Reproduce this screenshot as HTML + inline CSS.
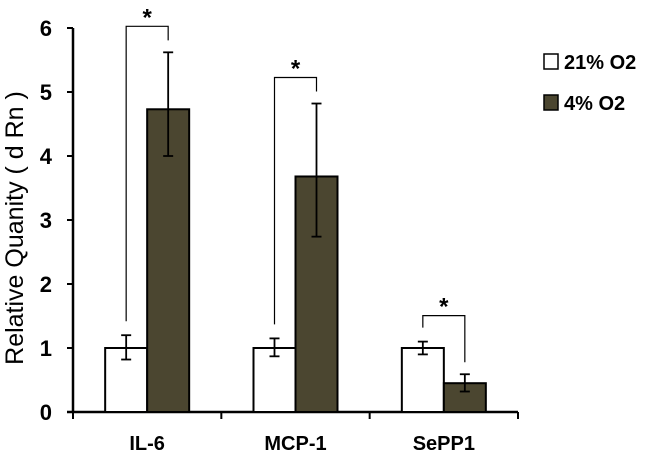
<!DOCTYPE html>
<html><head><meta charset="utf-8"><style>
body{margin:0;background:#fff}
svg{display:block;font-family:"Liberation Sans",Arial,sans-serif}
</style></head><body>
<svg id="c" width="650" height="456" viewBox="0 0 650 456"></svg>
<script>
const categories=["IL-6","MCP-1","SePP1"];
const normoxia=[1,1,1];
const normoxiaErrUp=[0.2,0.15,0.1];
const normoxiaErrDown=[0.18,0.13,0.1];
const hypoxia=[4.73,3.68,0.45];
const hypoxiaErrUp=[0.89,1.14,0.14];
const hypoxiaErrDown=[0.73,0.94,0.13];
const yTicks=[0,1,2,3,4,5,6];
const seriesNames=["21% O2","4% O2"];
const NS="http://www.w3.org/2000/svg";
const svg=document.getElementById('c');
const x0=73,x1=518,yBase=412,yTop=28,yMax=6;
const band=(x1-x0)/categories.length;
const y=v=>yBase-(yBase-yTop)*v/yMax;
const cx=i=>x0+band*(i+0.5);
const bw=42;
function mk(t,a,txt){const e=document.createElementNS(NS,t);for(const k in a)e.setAttribute(k,a[k]);if(txt!==undefined)e.textContent=txt;svg.appendChild(e);return e;}
let e=mk('line',{x1:x0,y1:yTop,x2:x0,y2:yBase,stroke:'#000','stroke-width':2.5});


e=mk('line',{x1:x0-6,y1:yBase,x2:x1,y2:yBase,stroke:'#000','stroke-width':2.5});


yTicks.forEach(t=>{
 let l=mk('line',{x1:x0-6,y1:y(t),x2:x0,y2:y(t),stroke:'#000','stroke-width':2});
 
 
 let tx=mk('text',{x:x0-21,y:y(t)+8,'text-anchor':'end','font-size':22,'font-weight':'bold'},t);
 
 
});
for(let i=0;i<=categories.length;i++){
 let l=mk('line',{x1:x0+band*i,y1:yBase,x2:x0+band*i,y2:yBase+7,stroke:'#000','stroke-width':2});
 
 
}
e=mk('text',{x:0,y:0,transform:'translate(23,228) rotate(-90)','text-anchor':'middle','font-size':25},'Relative Quanity ( d Rn )');


function err(xc,v,up,dn){
 const g=[[xc,y(v+up),xc,y(v-dn)],[xc-5,y(v+up),xc+5,y(v+up)],[xc-5,y(v-dn),xc+5,y(v-dn)]];
 g.forEach(s=>{let l=mk('line',{x1:s[0],y1:s[1],x2:s[2],y2:s[3],stroke:'#000','stroke-width':1.8});
 
 });
}
categories.forEach((c,i)=>{
 const xc=cx(i);
 let r=mk('rect',{x:xc-bw,y:y(normoxia[i]),width:bw,height:yBase-y(normoxia[i]),fill:'#fff',stroke:'#000','stroke-width':2});
 
 
 r=mk('rect',{x:xc,y:y(hypoxia[i]),width:bw,height:yBase-y(hypoxia[i]),fill:'#4b4630',stroke:'#000','stroke-width':2});
 
 
 err(xc-bw/2,normoxia[i],normoxiaErrUp[i],normoxiaErrDown[i]);
 err(xc+bw/2,hypoxia[i],hypoxiaErrUp[i],hypoxiaErrDown[i]);
 let t=mk('text',{x:xc,y:450,'text-anchor':'middle','font-size':20,'font-weight':'bold'},c);
 
 
 const lx=xc-bw/2,rx=xc+bw/2;
 const lTop=Math.max(normoxia[i]+normoxiaErrUp[i],hypoxia[i]+hypoxiaErrUp[i]);
 const topY=y(lTop)-26;
 const ly=y(normoxia[i]+normoxiaErrUp[i])-14, ry=y(hypoxia[i]+hypoxiaErrUp[i])-12;
 let p=mk('path',{d:`M${lx},${ly}V${topY}H${rx}V${ry}`,fill:'none',stroke:'#000','stroke-width':1.2});
 
 
 let s=mk('text',{x:xc,y:topY-1,'text-anchor':'middle','font-size':24,'font-weight':'bold'},'*');
 
 
});
[['#fff',54],['#4b4630',95]].forEach((d,i)=>{
 let r=mk('rect',{x:544,y:d[1],width:14,height:15,fill:d[0],stroke:'#000','stroke-width':1.5});
 
 
 let t=mk('text',{x:564,y:d[1]+15,'font-size':20,'font-weight':'bold'},seriesNames[i]);
 
 
});
</script>
</body></html>
